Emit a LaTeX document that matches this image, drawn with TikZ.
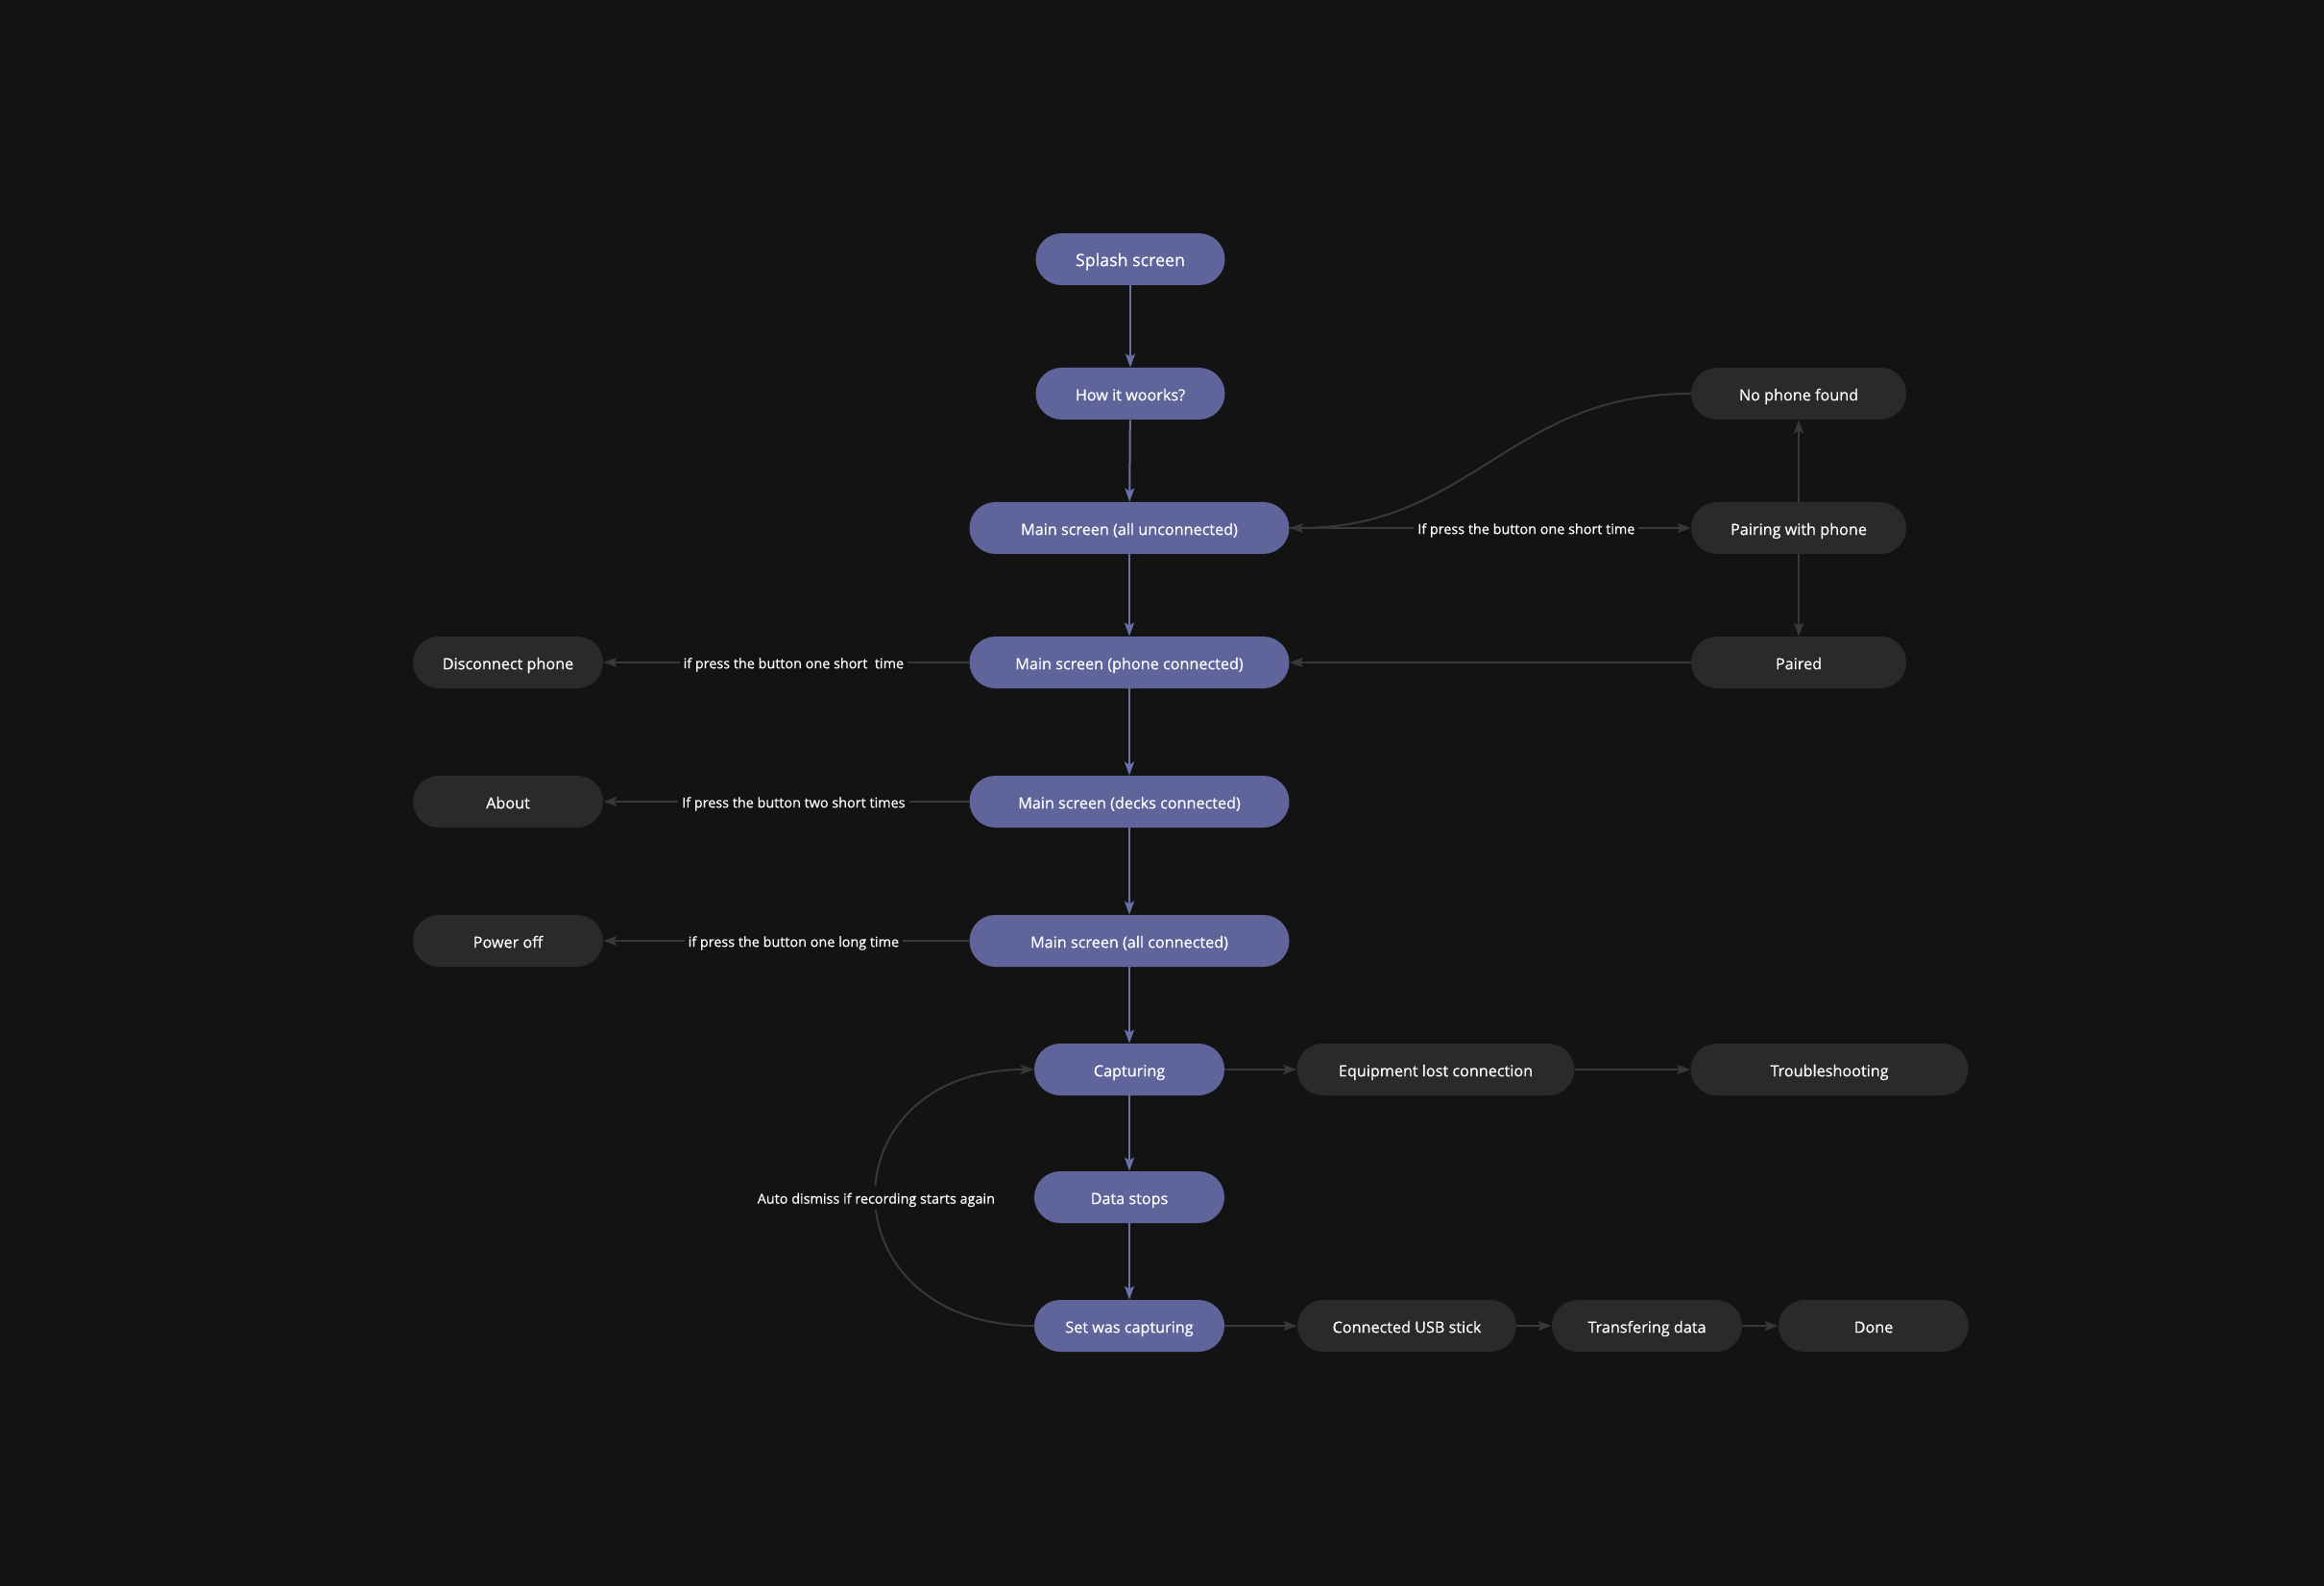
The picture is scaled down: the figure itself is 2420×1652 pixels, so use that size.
\documentclass[tikz,border=0pt]{standalone}
\usepackage{fontspec}
\setmainfont{Open Sans}[FakeBold=0.45]
\usetikzlibrary{arrows.meta}
\definecolor{bg}{HTML}{131313}
\definecolor{pnode}{HTML}{5F659B}
\definecolor{dnode}{HTML}{2A2A2A}
\definecolor{pline}{HTML}{6A70A8}
\definecolor{dline}{HTML}{383838}
\begin{document}
\begin{tikzpicture}[x=0.5pt,y=-0.5pt,
 base/.style={rounded corners=13.5pt, minimum height=27pt, inner sep=0pt, text=white, font=\fontsize{8.1}{10}\selectfont, text height=0.72em, text depth=0pt},
 pbox/.style={base, fill=pnode},
 dbox/.style={base, fill=dnode},
 tip/.style={-{Stealth[length=7pt,width=5pt,inset=1.5pt]}},
 parrow/.style={draw=pline, line width=1pt, tip},
 darrow/.style={draw=dline, line width=1pt, tip},
 lbl/.style={fill=bg, text=white, font=\fontsize{7.2}{9}\selectfont, inner sep=2pt, text height=0.72em, text depth=0.1em}
]
\fill[bg] (0,0) rectangle (2420,1652);
\useasboundingbox (0,0) rectangle (2420,1652);

% main column
\node[pbox, minimum width=98.5pt, font=\fontsize{8.9}{11}\selectfont] (splash) at (1177,270) {Splash screen};
\node[pbox, minimum width=98.5pt] (how) at (1177,410) {How it woorks?};
\node[pbox, minimum width=166.5pt] (mainu) at (1176,550) {Main screen (all unconnected)};
\node[pbox, minimum width=166.5pt] (mainp) at (1176,690) {Main screen (phone connected)};
\node[pbox, minimum width=166.5pt] (maind) at (1176,835) {Main screen (decks connected)};
\node[pbox, minimum width=166.5pt] (maina) at (1176,980) {Main screen (all connected)};
\node[pbox, minimum width=99pt] (capt) at (1176,1114) {Capturing};
\node[pbox, minimum width=99pt] (datas) at (1176,1247) {Data stops};
\node[pbox, minimum width=99pt] (setw) at (1176,1381) {Set was capturing};

% right column
\node[dbox, minimum width=112pt] (nophone) at (1873,410) {No phone found};
\node[dbox, minimum width=112pt] (pairing) at (1873,550) {Pairing with phone};
\node[dbox, minimum width=112pt] (paired) at (1873,690) {Paired};

% left column
\node[dbox, minimum width=99pt] (disc) at (529,690) {Disconnect phone};
\node[dbox, minimum width=99pt] (about) at (529,835) {About};
\node[dbox, minimum width=99pt] (power) at (529,980) {Power off};

% bottom rows
\node[dbox, minimum width=144.5pt] (equip) at (1495,1114) {Equipment lost connection};
\node[dbox, minimum width=144.5pt] (trouble) at (1905,1114) {Troubleshooting};
\node[dbox, minimum width=114pt] (usb) at (1465,1381) {Connected USB stick};
\node[dbox, minimum width=99pt] (transfer) at (1715,1381) {Transfering data};
\node[dbox, minimum width=99pt] (done) at (1951,1381) {Done};

% purple connectors
\draw[parrow] (splash) -- (how);
\draw[parrow] (how) -- (mainu);
\draw[parrow] (mainu) -- (mainp);
\draw[parrow] (mainp) -- (maind);
\draw[parrow] (maind) -- (maina);
\draw[parrow] (maina) -- (capt);
\draw[parrow] (capt) -- (datas);
\draw[parrow] (datas) -- (setw);

% dark connectors
\draw[darrow] (mainu.east) -- node[lbl, pos=0.59] {If press the button one short time} (pairing.west);
\draw[darrow] (nophone.west) .. controls +(-190,0) and +(190,0) .. (mainu.east);
\draw[darrow] (pairing) -- (nophone);
\draw[darrow] (pairing) -- (paired);
\draw[darrow] (paired.west) -- (mainp.east);
\draw[darrow] (mainp.west) -- node[lbl, pos=0.48] {if press the button one short\ \ time} (disc.east);
\draw[darrow] (maind.west) -- node[lbl, pos=0.48] {If press the button two short times} (about.east);
\draw[darrow] (maina.west) -- node[lbl, pos=0.48] {if press the button one long time} (power.east);
\draw[darrow] (capt) -- (equip);
\draw[darrow] (equip) -- (trouble);
\draw[darrow] (setw) -- (usb);
\draw[darrow] (usb) -- (transfer);
\draw[darrow] (transfer) -- (done);
\draw[darrow] (setw.west) .. controls +(-219,0) and +(-219,0) .. node[lbl, pos=0.5] {Auto dismiss if recording starts again} (capt.west);
\end{tikzpicture}
\end{document}
